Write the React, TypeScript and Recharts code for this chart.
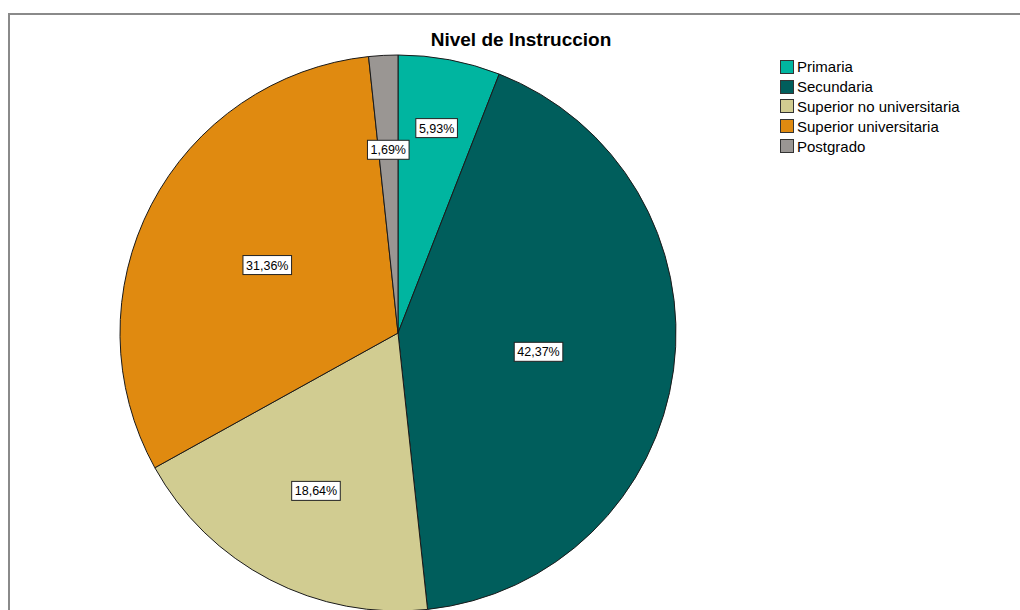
import { PieChart, Pie, Cell, Legend } from 'recharts'

const categories = ['Primaria', 'Secundaria', 'Superior no universitaria', 'Superior universitaria', 'Postgrado']
const percents = [5.93, 42.37, 18.64, 31.36, 1.69]
const colors = ['#00b5a0', '#005e5c', '#d1cc91', '#e08a10', '#9a9693']

// label distance from centre, as a fraction of the radius (SPSS places them unevenly)
const labelRatio = [0.75, 0.51, 0.64, 0.53, 0.66]

const data = categories.map((name, i) => ({ name, value: percents[i] }))

const RADIAN = Math.PI / 180

function textWidth(s: string): number {
  let w = 0
  for (const ch of s) {
    if (ch === ',') w += 3.5
    else if (ch === '%') w += 11.1
    else w += 7
  }
  return w
}

function renderLabel(props: any) {
  const { cx, cy, midAngle, outerRadius, index, value } = props
  const r = outerRadius * labelRatio[index]
  const x = cx + r * Math.cos(-midAngle * RADIAN)
  const y = cy + r * Math.sin(-midAngle * RADIAN)
  const text = `${value.toFixed(2).replace('.', ',')}%`
  const w = textWidth(text) + 6
  const h = 19
  return (
    <g key={`lbl-${index}`}>
      <rect x={x - w / 2} y={y - h / 2} width={w} height={h} fill="#ffffff" stroke="#222" strokeWidth={1} />
      <text x={x} y={y + 4.5} textAnchor="middle" fontSize={12.5} fontFamily="Liberation Sans, Arial, sans-serif" fill="#000">
        {text}
      </text>
    </g>
  )
}

function LegendContent() {
  return (
    <div style={{ fontFamily: 'Liberation Sans, Arial, sans-serif', fontSize: 15, color: '#000' }}>
      {categories.map((c, i) => (
        <div key={c} style={{ display: 'flex', alignItems: 'center', height: 19.8 }}>
          <span
            style={{
              display: 'inline-block',
              width: 14,
              height: 14,
              background: colors[i],
              border: '1px solid #333',
              boxSizing: 'border-box',
              marginRight: 3,
            }}
          />
          <span>{c}</span>
        </div>
      ))}
    </div>
  )
}

export default function App() {
  return (
    <div style={{ position: 'absolute', left: 0, top: 0, width: 1020, height: 610, overflow: 'hidden', background: '#fff' }}>
      <div
        style={{
          position: 'absolute',
          left: 8,
          top: 13,
          width: 1100,
          height: 700,
          borderTop: '2px solid #8a8a8a',
          borderLeft: '2px solid #8a8a8a',
        }}
      />
      <div
        style={{
          position: 'absolute',
          left: 321,
          top: 29,
          width: 400,
          textAlign: 'center',
          fontFamily: 'Liberation Sans, Arial, sans-serif',
          fontWeight: 'bold',
          fontSize: 19,
          color: '#000',
        }}
      >
        Nivel de Instruccion
      </div>
      <PieChart
        width={1020}
        height={610}
        margin={{ top: 0, right: 0, bottom: 0, left: 0 }}
        style={{ position: 'absolute', left: 0, top: 0 }}
      >
        <Pie
          data={data}
          dataKey="value"
          nameKey="name"
          cx={398}
          cy={333}
          outerRadius={278}
          startAngle={90}
          endAngle={-270}
          stroke="#1a1a1a"
          strokeWidth={1}
          label={renderLabel}
          labelLine={false}
          isAnimationActive={false}
        >
          {data.map((d, i) => (
            <Cell key={d.name} fill={colors[i]} />
          ))}
        </Pie>
        <Legend
          layout="vertical"
          align="right"
          verticalAlign="top"
          content={<LegendContent />}
          wrapperStyle={{ left: 780, top: 57, width: 230 }}
        />
      </PieChart>
    </div>
  )
}
